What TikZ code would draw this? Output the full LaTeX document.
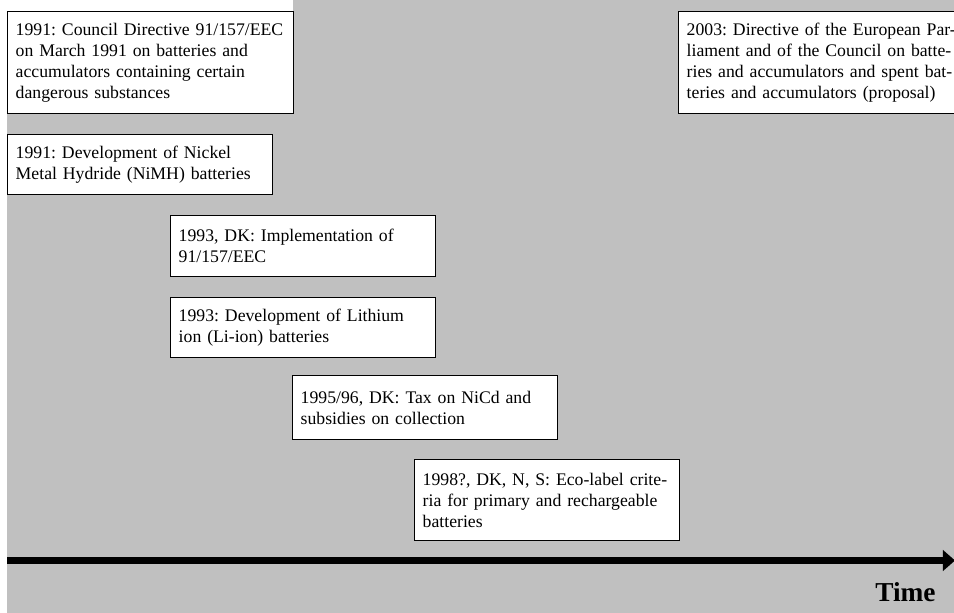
\documentclass[tikz,border=0pt]{standalone}
\usepackage{fontspec}
\setmainfont{Liberation Serif}
\usetikzlibrary{arrows.meta}
\definecolor{bggray}{HTML}{C0C0C0}
\newcommand\evline[1]{\mbox{#1}}
\tikzset{
  evbox/.style={draw=black, line width=0.9pt, fill=white, anchor=north west,
    align=left, inner xsep=5.3pt, inner ysep=0pt,
    font=\fontsize{11.65pt}{13.9pt}\selectfont\frenchspacing},
  timearrow/.style={line width=4.6pt, -{Triangle[length=8pt,width=13.5pt]}},
  timelabel/.style={font=\fontsize{18pt}{20pt}\selectfont\bfseries, inner sep=0pt, anchor=base west}
}
\hfuzz=50pt
\begin{document}
\begin{tikzpicture}[x=0.6579pt, y=-0.6579pt]
\useasboundingbox (0,0) rectangle (954,612);
\clip (0,0) rectangle (954,612);
\fill[bggray] (7,0) rectangle (960,620);
\fill[white] (7,-2) rectangle (293,11);
\node[evbox, minimum width=188.2pt, minimum height=67.1pt, text width=177.6pt] (b1) at (7,11)
  {\evline{1991: Council Directive 91/157/EEC}\\\evline{on March 1991 on batteries and}\\\evline{accumulators containing certain}\\\evline{dangerous substances}};
\node[evbox, minimum width=174.3pt, minimum height=39.5pt, text width=163.7pt] (b2) at (7,134)
  {\evline{1991: Development of Nickel}\\\evline{Metal Hydride (NiMH) batteries}};
\node[evbox, minimum width=187.5pt, minimum height=67.1pt, text width=176.9pt] (b7) at (678,11)
  {\evline{2003: Directive of the European Par-}\\\evline{liament and of the Council on batte-}\\\evline{ries and accumulators and spent bat-}\\\evline{teries and accumulators (proposal)}};
\node[evbox, minimum width=174.3pt, minimum height=40.1pt, text width=163.7pt] (b3) at (170,215)
  {\evline{1993, DK: Implementation of}\\\evline{91/157/EEC}};
\node[evbox, minimum width=174.3pt, minimum height=39.5pt, text width=163.7pt] (b4) at (170,297)
  {\evline{1993: Development of Lithium}\\\evline{ion (Li-ion) batteries}};
\node[evbox, minimum width=174.3pt, minimum height=42.1pt, text width=163.7pt] (b5) at (292,375)
  {\evline{1995/96, DK: Tax on NiCd and}\\\evline{subsidies on collection}};
\node[evbox, minimum width=174.3pt, minimum height=53.3pt, text width=163.7pt] (b6) at (414,459)
  {\evline{1998?, DK, N, S: Eco-label crite-}\\\evline{ria for primary and rechargeable}\\\evline{batteries}};
\coordinate (tstart) at (7,560.5);
\coordinate (tend) at (955,560.5);
\draw[timearrow] (tstart) -- (tend);
\node[timelabel] (time) at (875,601) {Time};
\end{tikzpicture}
\end{document}
